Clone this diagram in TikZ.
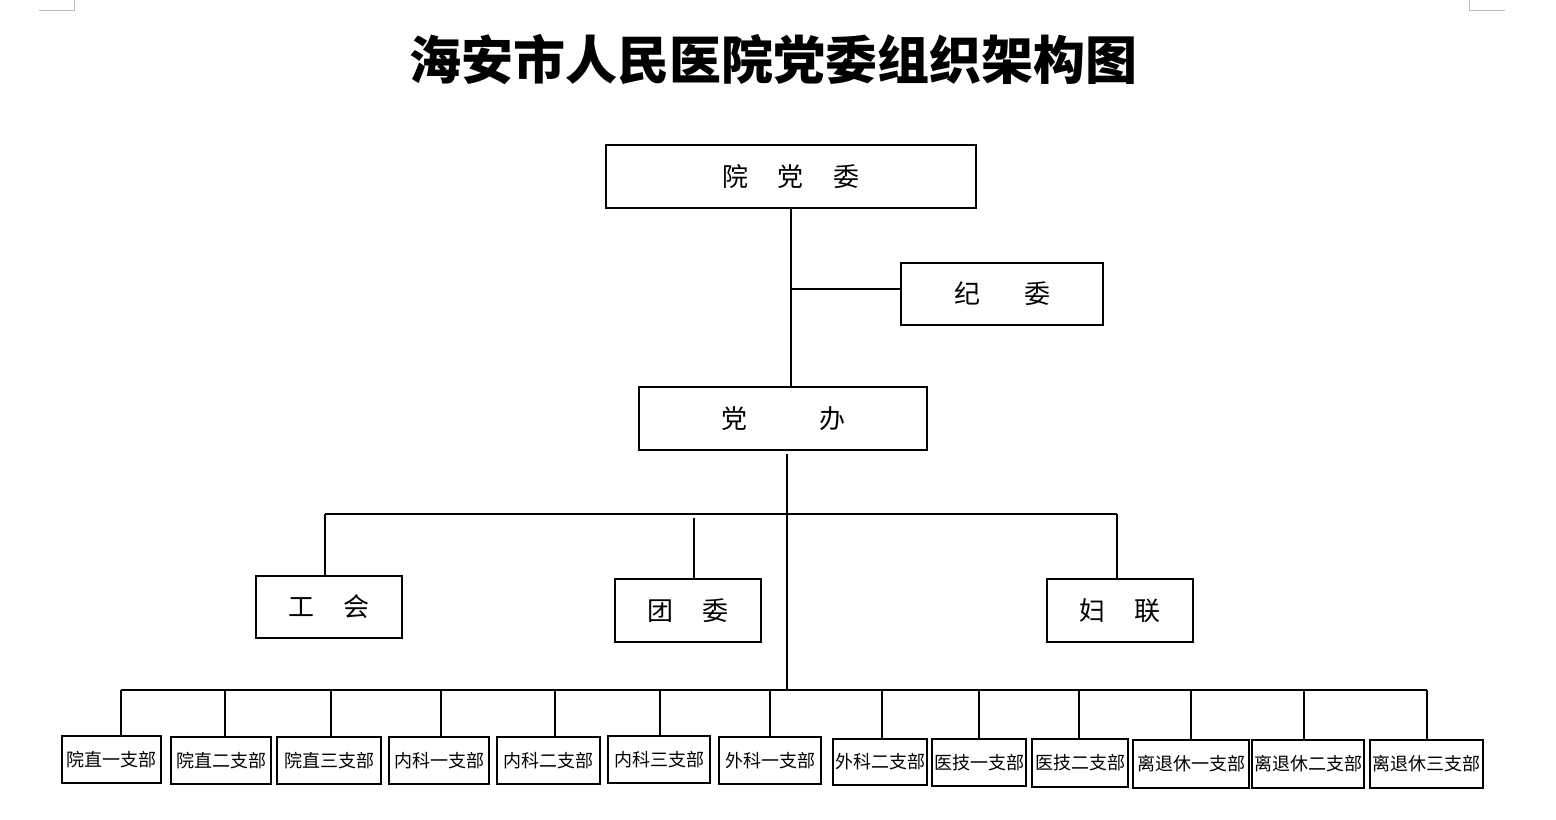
\documentclass[tikz,border=0pt]{standalone}
\usepackage{fontspec}
\setmainfont{Noto Sans CJK SC}
\usetikzlibrary{positioning,calc}
\definecolor{ink}{RGB}{0,0,0}
\definecolor{corner}{RGB}{190,190,190}
\tikzset{
  org/.style={draw=ink,line width=1pt,inner sep=0pt,align=center,
    font=\fontsize{13}{15}\selectfont},
  unit/.style={draw=ink,line width=1pt,inner sep=0pt,align=center,
    font=\fontsize{9}{11}\selectfont},
  link/.style={draw=ink,line width=1pt},
}
\begin{document}
\begin{tikzpicture}[x=0.5pt,y=-0.5pt]
  \useasboundingbox (0,0) rectangle (1556,819);
  % page corner marks
  \draw[corner,line width=0.5pt] (39,10) -- (74,10) -- (74,0);
  \draw[corner,line width=0.5pt] (1469,0) -- (1469,10) -- (1505,10);
  \node[font=\fontsize{26}{30}\selectfont\bfseries] (title) at (773,60) {海安市人民医院党委组织架构图};
  % upper levels
  \node[org,minimum width=185pt,minimum height=31.5pt] (ydw) at (791,176.5) {院\hspace{15pt}党\hspace{15pt}委};
  \node[org,minimum width=101pt,minimum height=31pt] (jw) at (1002,294) {纪\hspace{22pt}委};
  \node[org,minimum width=144pt,minimum height=31.5pt] (db) at (783,418.5) {党\hspace{36pt}办};
  \node[org,minimum width=73pt,minimum height=31pt] (gh) at (329,607) {工\hspace{15pt}会};
  \node[org,minimum width=73pt,minimum height=31.5pt] (tw) at (688,610.5) {团\hspace{15pt}委};
  \node[org,minimum width=73pt,minimum height=31.5pt] (fl) at (1120,610.5) {妇\hspace{15pt}联};
  \draw[link] (ydw.south) -- (ydw.south |- db.north);
  \coordinate (jwj) at (791,289);
  \draw[link] (jwj) -- (jwj -| jw.west);
  % 党办 to the groups
  \coordinate (mid) at (787,514);
  \coordinate (bus) at (787,690);
  \coordinate (ghj) at (325,514);
  \coordinate (twj) at (694,518);
  \coordinate (flj) at (1117,514);
  \draw[link] (db.south -| mid) ++(0,3) -- (bus);
  \draw[link] (ghj) -- (flj);
  \draw[link] (ghj) -- (ghj |- gh.north);
  \draw[link] (twj) -- (twj |- tw.north);
  \draw[link] (flj) -- (flj |- fl.north);
  % branches
  \foreach \i/\lx/\rx/\ty/\by/\dx/\lab in {
    1/62/161/736/783/121/院直一支部,
    2/171/271/737/784/225/院直二支部,
    3/277/381/737/784/331/院直三支部,
    4/389/489/737/784/441/内科一支部,
    5/497/600/737/784/555/内科二支部,
    6/608/710/736/783/660/内科三支部,
    7/719/821/737/784/770/外科一支部,
    8/833/927/739/785/882/外科二支部,
    9/932/1026/739/786/979/医技一支部,
    10/1032/1128/739/787/1079/医技二支部,
    11/1133/1249/740/788/1191/离退休一支部,
    12/1252/1364/740/788/1304/离退休二支部,
    13/1370/1483/740/788/1427/离退休三支部}
  {
    \node[unit,minimum width={(\rx-\lx)*0.5pt},minimum height={(\by-\ty)*0.5pt}] (b\i) at ({(\lx+\rx)/2},{(\ty+\by)/2}) {\lab};
    \coordinate (d\i) at (\dx,690);
    \draw[link] (d\i) -- (d\i |- b\i.north);
  }
  \draw[link] (d1) -- (d13);
\end{tikzpicture}
\end{document}
